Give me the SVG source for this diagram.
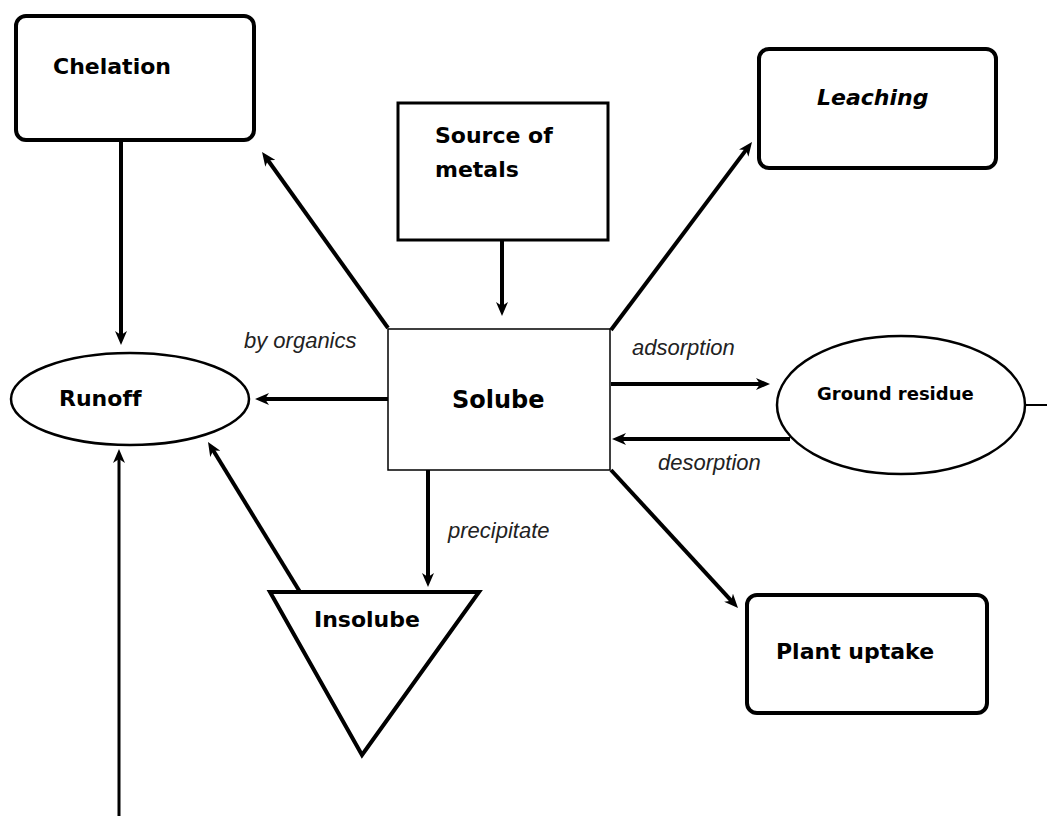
<svg xmlns="http://www.w3.org/2000/svg" width="1047" height="816" viewBox="0 0 1047 816">
<style>
.box{fill:#fff;stroke:#000;stroke-width:4}
.sq{fill:#fff;stroke:#000;stroke-width:3}
.thin{fill:#fff;stroke:#000;stroke-width:1.5}
.ell{fill:#fff;stroke:#000;stroke-width:2.5}
.lbl{font-family:"DejaVu Sans",Verdana,sans-serif;font-weight:bold;font-size:22px;fill:#000;font-variant-ligatures:none}
.it{font-family:"Liberation Sans",Arial,sans-serif;font-style:italic;font-size:22px;fill:#222}
.c{stroke:#000;stroke-width:4;fill:none;marker-end:url(#ah)}
</style>
<defs>
<marker id="ah" viewBox="0 0 14 12" refX="6" refY="6" markerWidth="14" markerHeight="12" markerUnits="userSpaceOnUse" orient="auto">
<path d="M0,0 L14,6 L0,12 L4,6 z" fill="#000"/>
</marker>
</defs>
<rect width="1047" height="816" fill="#fff"/>
<g id="connectors">
<line class="c" x1="121" y1="140" x2="121" y2="337"/>
<line class="c" x1="502" y1="240" x2="502" y2="308"/>
<line class="c" x1="611" y1="330" x2="747.2" y2="148.4"/>
<line class="c" x1="611" y1="384" x2="762" y2="384"/>
<line class="c" x1="790" y1="439" x2="620" y2="439"/>
<line class="c" x1="611" y1="470" x2="732.6" y2="602.1"/>
<line class="c" x1="388" y1="328" x2="266.7" y2="158.5"/>
<line class="c" x1="388" y1="399" x2="263" y2="399"/>
<line class="c" x1="428" y1="470" x2="428" y2="579"/>
<line class="c" x1="300" y1="592" x2="212.2" y2="448.8"/>
<line class="c" style="stroke-width:3" x1="119" y1="816" x2="119" y2="457"/>
<line x1="1025" y1="405" x2="1047" y2="405" stroke="#000" stroke-width="2"/>
</g>
<g id="chelation">
<rect class="box" x="16" y="16" width="238" height="124" rx="10"/>
<text class="lbl" x="53" y="74">Chelation</text>
</g>
<g id="source">
<rect class="sq" x="398" y="103" width="210" height="137"/>
<text class="lbl" x="435" y="143">Source of</text>
<text class="lbl" x="435" y="177">metals</text>
</g>
<g id="leaching">
<rect class="box" x="759" y="49" width="237" height="119" rx="10"/>
<text class="lbl" x="817" y="105" font-style="italic">Leaching</text>
</g>
<g id="solube">
<rect class="thin" x="388" y="329" width="222" height="141"/>
<text class="lbl" x="452" y="408" style="font-size:24px">Solube</text>
</g>
<g id="runoff">
<ellipse class="ell" cx="130" cy="399" rx="119" ry="46"/>
<text class="lbl" x="59" y="406">Runoff</text>
</g>
<g id="ground-residue">
<ellipse class="ell" cx="901" cy="405" rx="124" ry="69"/>
<text class="lbl" x="817" y="400" style="font-size:18px">Ground residue</text>
</g>
<g id="insolube">
<polygon points="270,592 479,592 362,755" fill="#fff" stroke="#000" stroke-width="4"/>
<text class="lbl" x="314" y="627">Insolube</text>
</g>
<g id="plant-uptake">
<rect class="box" x="747" y="595" width="240" height="118" rx="10"/>
<text class="lbl" x="776" y="659">Plant uptake</text>
</g>
<g id="labels">
<text class="it" x="244" y="348">by organics</text>
<text class="it" x="632" y="355">adsorption</text>
<text class="it" x="658" y="470">desorption</text>
<text class="it" x="448" y="538">precipitate</text>
</g>
</svg>
